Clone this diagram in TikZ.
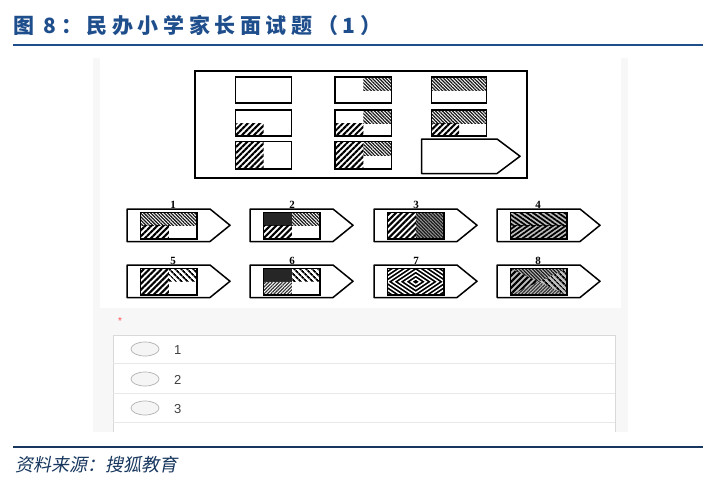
\documentclass[tikz,border=0pt]{standalone}
\usepackage{fontspec}
\usetikzlibrary{patterns.meta}
\newfontfamily\cjk{Noto Sans CJK SC}
\newfontfamily\cjksl{Noto Sans CJK SC}[FakeSlant=0.2]
\newfontfamily\numserif{Liberation Serif}
\newfontfamily\uisans{Liberation Sans}
\definecolor{titleblue}{HTML}{1F4E8C}
\definecolor{rulenavy}{HTML}{17375E}
\definecolor{panelgray}{HTML}{F7F7F7}
\tikzset{
  hA/.style={pattern={Lines[angle=45,distance=4.2pt,line width=2.1pt]},pattern color=black},
  hB/.style={pattern={Lines[angle=-45,distance=2.4pt,line width=1.25pt]},pattern color=black!90},
  hF/.style={pattern={Lines[angle=45,distance=2.4pt,line width=1.2pt]},pattern color=black!80},
  hE/.style={pattern={Lines[angle=-45,distance=4pt,line width=1.9pt]},pattern color=black},
  hC/.style={pattern={Lines[angle=-35,distance=3.6pt,line width=1.8pt]},pattern color=black},
  hD/.style={pattern={Lines[angle=35,distance=3.6pt,line width=1.8pt]},pattern color=black},
  cellbox/.style={draw=black,line width=1.4pt},
  innerbox/.style={draw=black,line width=1.3pt},
  pentbox/.style={draw=black,line width=1.5pt,line join=round},
  optnum/.style={font=\numserif\bfseries\fontsize{11}{11}\selectfont,inner sep=0pt,anchor=base},
  radio/.style={draw=black!30,fill=black!4,line width=0.7pt},
  radiolab/.style={font=\uisans\fontsize{13}{13}\selectfont,text=black!75,anchor=west,inner sep=0pt},
  sepline/.style={draw=black!9,line width=0.8pt}
}
\newcommand\pentshape{\draw[pentbox] (0,0) -- (83,0) -- (103,16.25) -- (83,32.5) -- (0,32.5) -- cycle;}
\newcommand\innerframe{\draw[innerbox] (13.5,3.5) rectangle (70,30);}
\begin{document}
\begin{tikzpicture}[x=1pt,y=-1pt]
\useasboundingbox (0,0) rectangle (716,490);
\fill[white] (0,0) rectangle (716,490);
% title
\node[anchor=west,inner sep=0pt,text=titleblue] (title) at (13,25)
  {\cjk\bfseries\fontsize{21}{21}\selectfont\addfontfeature{LetterSpace=22}图 8：民办小学家长面试题（1）};
\draw[titleblue,line width=2pt] (13,45) -- (703,45);
% screenshot panel
\fill[panelgray] (93,58) rectangle (628,432);
\fill[white] (100,58) rectangle (621,308);
% puzzle frame
\draw[black,line width=1.8pt] (195,71) rectangle (527,178);
% row 1
\fill[hB] (363.25,77) rectangle (391.5,90);
\fill[hB] (431.5,77) rectangle (486.5,90);
\draw[cellbox] (235.5,77) rectangle (291.5,103);
\draw[cellbox] (335,77) rectangle (391.5,103);
\draw[cellbox] (431.5,77) rectangle (486.5,103);
% row 2
\fill[hA] (235.5,123) rectangle (263.5,136);
\fill[hA] (335,123) rectangle (363.25,136);
\fill[hB] (363.25,110) rectangle (391.5,123);
\fill[hB] (431.5,110) rectangle (486.5,123);
\fill[hA] (431.5,123) rectangle (459,136);
\draw[cellbox] (235.5,110) rectangle (291.5,136);
\draw[cellbox] (335,110) rectangle (391.5,136);
\draw[cellbox] (431.5,110) rectangle (486.5,136);
% row 3
\fill[hA] (235.5,141.5) rectangle (263.5,169);
\fill[hA] (335,141.5) rectangle (363.25,169);
\fill[hB] (363.25,141.5) rectangle (391.5,155.25);
\draw[cellbox] (235.5,141.5) rectangle (291.5,169);
\draw[cellbox] (335,141.5) rectangle (391.5,169);
\draw[pentbox] (421.5,139) -- (497,139) -- (520,156.25) -- (497,173.5) -- (421.5,173.5) -- cycle;
% option 1
\begin{scope}[shift={(127,209)}]
  \fill[hB] (13.5,3.5) rectangle (70,16.75);
  \fill[hA] (13.5,16.75) rectangle (41.75,30);
  \innerframe \pentshape
  \node[optnum] (n1) at (46,-1) {1};
\end{scope}
% option 2
\begin{scope}[shift={(250,209)}]
  \fill[black!85] (13.5,3.5) rectangle (41.75,16.75);
  \fill[hB] (41.75,3.5) rectangle (70,16.75);
  \fill[hA] (13.5,16.75) rectangle (41.75,30);
  \innerframe \pentshape
  \node[optnum] (n2) at (42,-1) {2};
\end{scope}
% option 3
\begin{scope}[shift={(374,209)}]
  \fill[hA] (13.5,3.5) rectangle (41.75,30);
  \fill[black!40] (41.75,3.5) rectangle (70,30);
  \fill[hB] (41.75,3.5) rectangle (70,30);
  \innerframe \pentshape
  \node[optnum] (n3) at (42,-1) {3};
\end{scope}
% option 4
\begin{scope}[shift={(497,209)}]
  \fill[black!25] (13.5,3.5) rectangle (70,30);
  \fill[hC] (13.5,3.5) rectangle (70,16.75);
  \fill[hD] (13.5,16.75) rectangle (70,30);
  \innerframe \pentshape
  \node[optnum] (n4) at (41,-1) {4};
\end{scope}
% option 5
\begin{scope}[shift={(127,265)}]
  \fill[hA] (13.5,3.5) rectangle (41.75,30);
  \fill[hE] (41.75,3.5) rectangle (70,16.75);
  \innerframe \pentshape
  \node[optnum] (n5) at (46,-1) {5};
\end{scope}
% option 6
\begin{scope}[shift={(250,265)}]
  \fill[black!85] (13.5,3.5) rectangle (41.75,16.75);
  \fill[hE] (41.75,3.5) rectangle (70,16.75);
  \fill[hF] (13.5,16.75) rectangle (41.75,30);
  \innerframe \pentshape
  \node[optnum] (n6) at (42,-1) {6};
\end{scope}
% option 7
\begin{scope}[shift={(374,265)}]
  \begin{scope}
    \clip (13.5,3.5) rectangle (70,30);
    \fill[black] (13.5,3.5) rectangle (70,30);
    \foreach \r in {3,7,...,39}
      \draw[white,line width=1.4pt] ({41.75-1.5*\r},16.75) -- (41.75,{16.75-\r}) -- ({41.75+1.5*\r},16.75) -- (41.75,{16.75+\r}) -- cycle;
  \end{scope}
  \innerframe \pentshape
  \node[optnum] (n7) at (42,-1) {7};
\end{scope}
% option 8
\begin{scope}[shift={(497,265)}]
  \fill[black!25] (13.5,3.5) rectangle (70,30);
  \fill[hA] (13.5,3.5) -- (41.75,16.75) -- (13.5,30) -- cycle;
  \fill[hE] (70,3.5) -- (41.75,16.75) -- (70,30) -- cycle;
  \fill[hB] (13.5,3.5) -- (70,3.5) -- (41.75,16.75) -- cycle;
  \fill[hF] (13.5,30) -- (70,30) -- (41.75,16.75) -- cycle;
  \innerframe \pentshape
  \node[optnum] (n8) at (41,-1) {8};
\end{scope}
% answer area
\node[text=red!70,font=\uisans\fontsize{10}{10}\selectfont,inner sep=0pt] (star) at (120,321) {*};
\fill[white] (113,335) rectangle (615,432);
\draw[black!15,line width=0.8pt] (113,432) -- (113,335) -- (615,335) -- (615,432);
\draw[sepline] (113,363.5) -- (615,363.5);
\draw[sepline] (113,393) -- (615,393);
\draw[sepline] (113,422) -- (615,422);
\draw[radio] (145,349) ellipse (14 and 7);
\draw[radio] (145,379) ellipse (14 and 7);
\draw[radio] (145,408) ellipse (14 and 7);
\node[radiolab] (r1) at (174,350) {1};
\node[radiolab] (r2) at (174,380) {2};
\node[radiolab] (r3) at (174,409) {3};
% bottom rule and source
\draw[rulenavy,line width=2.5pt] (13,447) -- (703,447);
\node[anchor=west,inner sep=0pt,text=rulenavy] (src) at (15,465)
  {\cjksl\fontsize{18}{18}\selectfont 资料来源：搜狐教育};
\end{tikzpicture}
\end{document}
